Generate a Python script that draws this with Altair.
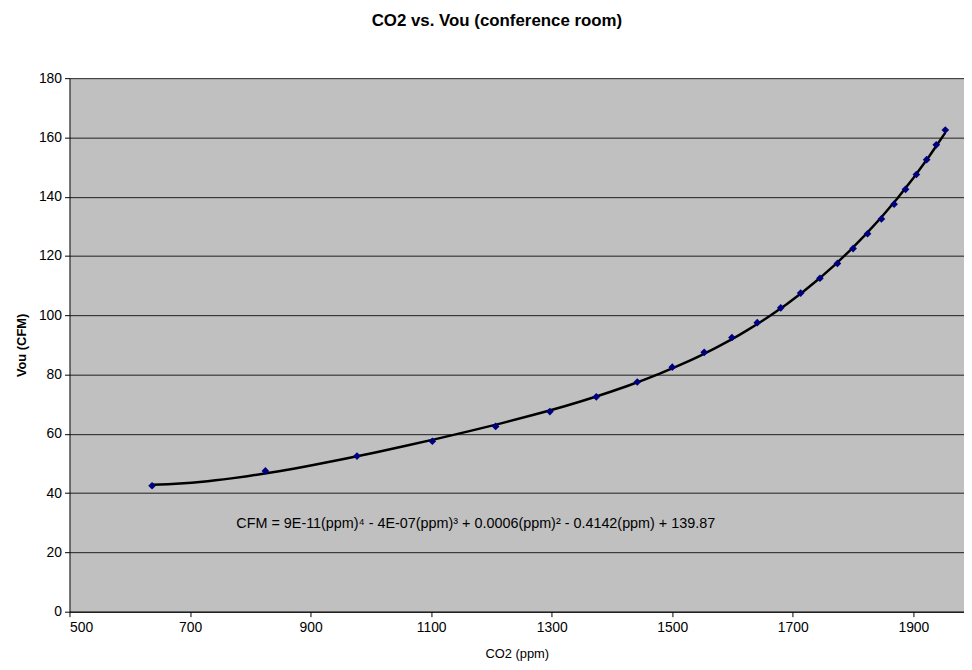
import altair as alt
import pandas as pd

# Data
co2_ppm = [637, 825, 977, 1102, 1207, 1297, 1374, 1442, 1500, 1553, 1599, 1641, 1680,
           1713, 1745, 1774, 1800, 1824, 1847, 1868, 1887, 1905, 1922, 1938, 1953]
vou_cfm = [42.5, 47.5, 52.5, 57.5, 62.5, 67.5, 72.5, 77.5, 82.5, 87.5, 92.5, 97.5, 102.5,
           107.5, 112.5, 117.5, 122.5, 127.5, 132.5, 137.5, 142.5, 147.5, 152.5, 157.5, 162.5]
x_ticks = [500, 700, 900, 1100, 1300, 1500, 1700, 1900]
y_ticks = [0, 20, 40, 60, 80, 100, 120, 140, 160, 180]
equation = "CFM = 9E-11(ppm)\u2074 - 4E-07(ppm)\u00b3 + 0.0006(ppm)\u00b2 - 0.4142(ppm) + 139.87"
eq_pos = {"ppm": [1174], "cfm": [29.5]}

df = pd.DataFrame({"ppm": co2_ppm, "cfm": vou_cfm})
eq_df = pd.DataFrame({"ppm": eq_pos["ppm"], "cfm": eq_pos["cfm"], "label": [equation]})

FONT = "Liberation Sans"
X_MAX = 1984

xs = alt.Scale(domain=[500, X_MAX], nice=False, zero=False)
ys = alt.Scale(domain=[0, 180], nice=False)

x_axis = alt.Axis(values=x_ticks, format="d", title="CO2 (ppm)", grid=False, tickSize=5,
                  tickColor="black", domainColor="black", labelColor="black",
                  labelFont=FONT, labelFontSize=14, labelPadding=4,
                  titleFont=FONT, titleFontSize=13, titleFontWeight="normal",
                  titleColor="black", titlePadding=13)
y_axis = alt.Axis(values=y_ticks, format="d", title="Vou (CFM)", grid=True,
                  gridColor="black", gridWidth=1, gridOpacity=0.85, tickSize=5,
                  tickColor="black", domainColor="black", labelColor="black",
                  labelFont=FONT, labelFontSize=14, labelPadding=3, titleFont=FONT,
                  titleFontSize=13, titleFontWeight="bold", titleColor="black",
                  titlePadding=10)

base = alt.Chart(df)

points = base.mark_point(shape="diamond", filled=True, color="#00007F", size=60,
                         opacity=1).encode(
    x=alt.X("ppm:Q", scale=xs, axis=x_axis),
    y=alt.Y("cfm:Q", scale=ys, axis=y_axis),
)

trend = base.transform_regression("ppm", "cfm", method="poly", order=4).mark_line(
    color="black", strokeWidth=2.5).encode(
    x=alt.X("ppm:Q", scale=xs),
    y=alt.Y("cfm:Q", scale=ys),
)

eq_text = alt.Chart(eq_df).mark_text(font=FONT, fontSize=14.5, color="black",
                                     align="center", baseline="middle").encode(
    x=alt.X("ppm:Q", scale=xs),
    y=alt.Y("cfm:Q", scale=ys),
    text="label:N",
)

chart = alt.layer(trend, points, eq_text).properties(
    width=902,
    height=538,
    autosize=alt.AutoSizeParams(type="none"),
    padding={"left": 62, "top": 68, "right": 0, "bottom": 50},
    title=alt.TitleParams("CO2 vs. Vou (conference room)", font=FONT, fontSize=17,
                          fontWeight="bold", color="black", anchor="middle",
                          dx=-20, offset=42),
).configure_view(fill="#C0C0C0", stroke="transparent")

chart.save("out.html", embed_options={"renderer": "svg", "actions": False})
